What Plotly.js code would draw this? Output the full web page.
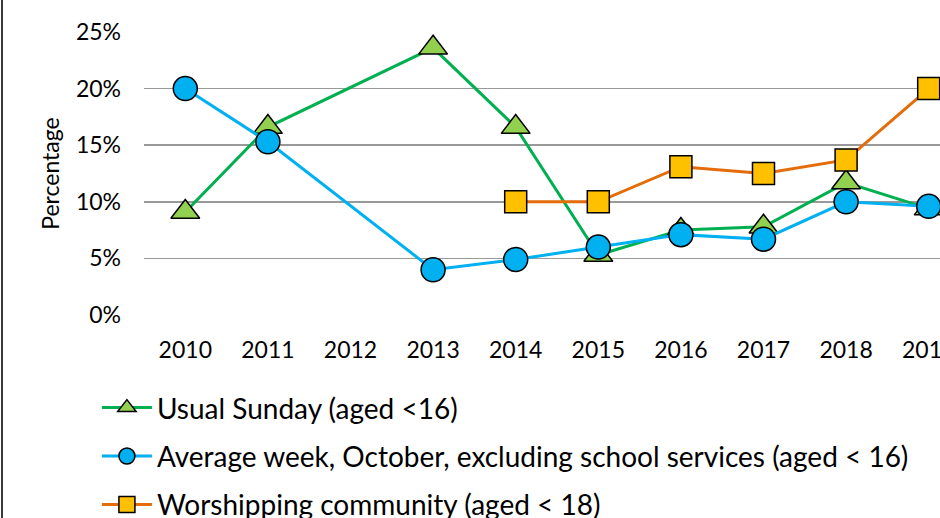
<!DOCTYPE html>
<html>
<head>
<meta charset="utf-8">
<script src="https://cdn.plot.ly/plotly-3.0.1.min.js"></script>
<style>
html, body { margin: 0; padding: 0; overflow: hidden; background: #fff; width: 940px; height: 518px; }
#frame { position: absolute; left: 0; top: 0; width: 940px; height: 518px; overflow: hidden; }
#edge { position: absolute; left: 1px; top: 0; width: 2px; height: 518px; background: #3a3a3a; z-index: 5; }
#chart { position: absolute; left: 0; top: 0; }
</style>
</head>
<body>
<div id="frame">
<div id="chart"></div>
<div id="edge"></div>
</div>
<script>
const years = ['2010','2011','2012','2013','2014','2015','2016','2017','2018','2019'];
const usualSunday = [9.1, 16.6, null, 23.6, 16.6, 5.3, 7.5, 7.8, 11.7, 9.4];
const averageWeek = [20.0, 15.3, null, 4.0, 4.9, 6.0, 7.1, 6.7, 10.0, 9.6];
const worshipping = [null, null, null, null, 10.0, 10.0, 13.1, 12.5, 13.7, 20.0];
const yTicks = [0, 5, 10, 15, 20, 25];
const names = [
  'Usual Sunday (aged <16)',
  'Average week, October, excluding school services (aged < 16)',
  'Worshipping community (aged < 18)'
];

const FONT = 'Lato, "Open Sans", sans-serif';

const traces = [
  {
    x: years, y: usualSunday, name: names[0], type: 'scatter', mode: 'lines+markers',
    connectgaps: true, legendgroup: 'a',
    line: {color: '#00B050', width: 3},
    marker: {symbol: 'triangle-up', size: 25, color: '#92D050', line: {color: '#000', width: 1.5}}
  },
  {
    x: years, y: averageWeek, name: names[1], type: 'scatter', mode: 'lines+markers',
    connectgaps: true, legendgroup: 'b',
    line: {color: '#00B0F0', width: 3},
    marker: {symbol: 'circle', size: 24, color: '#00B0F0', line: {color: '#000', width: 1.5}}
  },
  {
    x: years, y: worshipping, name: names[2], type: 'scatter', mode: 'lines+markers',
    connectgaps: true, legendgroup: 'c',
    line: {color: '#E46C0A', width: 3},
    marker: {symbol: 'square', size: 22, color: '#FFC000', line: {color: '#000', width: 1.5}}
  }
];

const layout = {
  width: 980, height: 560,
  margin: {l: 144, r: 10, t: 32, b: 245},
  paper_bgcolor: '#fff', plot_bgcolor: '#fff',
  font: {family: FONT, size: 22, color: '#000'},
  showlegend: true,
  legend: {
    x: -0.057, xanchor: 'left', y: -0.24, yanchor: 'top',
    orientation: 'v', tracegroupgap: 9, itemwidth: 50,
    font: {family: FONT, size: 28, color: '#000'},
    bgcolor: 'rgba(0,0,0,0)'
  },
  xaxis: {
    type: 'category', categoryorder: 'array', categoryarray: years,
    range: [-0.5, 9.5], showgrid: false, zeroline: false, showline: false,
    ticks: '', ticklabelstandoff: 19,
    tickfont: {family: FONT, size: 23, color: '#000'}
  },
  yaxis: {
    range: [0, 25], tickvals: yTicks, ticktext: yTicks.map(v => v + '%'),
    showgrid: true, gridcolor: '#999999', gridwidth: 1.5, zeroline: false, showline: false,
    ticks: '', ticklabelstandoff: 22,
    tickfont: {family: FONT, size: 23, color: '#000'},
    title: {text: 'Percentage', font: {family: FONT, size: 23, color: '#000'}, standoff: 9}
  }
};

Plotly.newPlot('chart', traces, layout, {displayModeBar: false, staticPlot: true});
</script>
</body>
</html>
